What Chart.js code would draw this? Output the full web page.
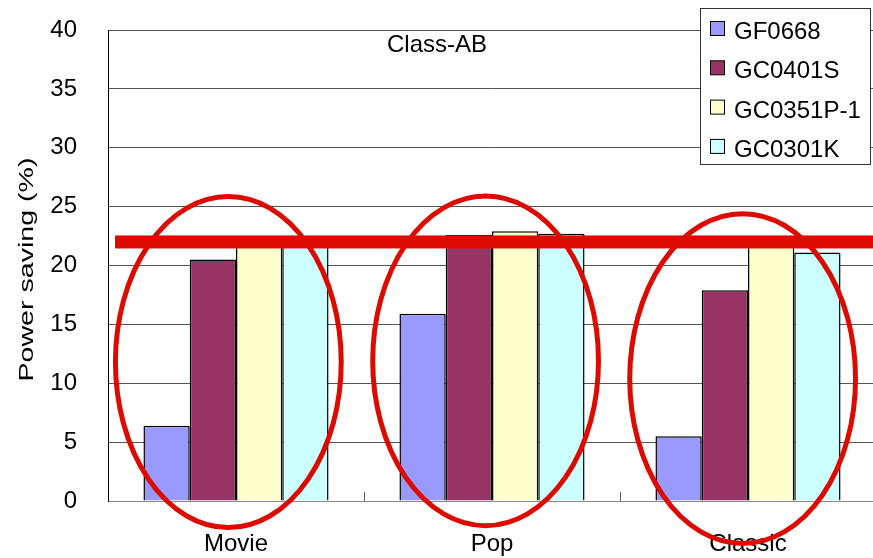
<!DOCTYPE html>
<html>
<head>
<meta charset="utf-8">
<script src="https://cdn.jsdelivr.net/npm/chart.js@4/dist/chart.umd.min.js"></script>
<style>
  html, body { margin: 0; padding: 0; background: #fff; overflow: hidden; }
  #wrap { width: 876px; height: 558px; position: relative; }
</style>
</head>
<body>
<div id="wrap"><canvas id="c"></canvas></div>
<script>
// Power saving per music genre, four amplifier parts (Class-AB)
const categories = ['Movie', 'Pop', 'Classic'];
const seriesNames = ['GF0668', 'GC0401S', 'GC0351P-1', 'GC0301K'];
const gf0668   = [6.4, 15.9, 5.5];
const gc0401s  = [20.5, 22.6, 17.9];
const gc0351p1 = [21.9, 22.9, 21.9];
const gc0301k  = [21.8, 22.7, 21.1];
const yTicks = [0, 5, 10, 15, 20, 25, 30, 35, 40];
const targetLevel = 22;           // horizontal reference line (%)
const chartTitle = 'Class-AB';
const axisTitle = 'Power saving (%)';

// highlight ellipses: centre (category index, %), radii (categories, %)
const ringCx = [-0.03, -0.025, -0.021];
const ringCy = [11.8, 11.9, 10.4];
const ringRx = [0.441, 0.441, 0.441];
const ringRy = [14.06, 14.0, 14.0];

const colors = ['#9999FF', '#993366', '#FFFFCC', '#CCFFFF'];
const FONT = 'Liberation Sans';
const RED = '#DD0A00';

const overlay = {
  id: 'overlay',
  afterDraw(chart) {
    const { ctx, chartArea: a, scales: { x, y } } = chart;
    const catW = x.getPixelForValue(1) - x.getPixelForValue(0);
    ctx.save();

    // short inward marks between categories
    ctx.strokeStyle = '#555';
    ctx.lineWidth = 1;
    for (let i = 1; i < categories.length; i++) {
      const px = Math.round(x.getPixelForValue(i - 0.5)) + 0.5;
      ctx.beginPath();
      ctx.moveTo(px, a.bottom);
      ctx.lineTo(px, a.bottom - 9);
      ctx.stroke();
    }

    // reference level
    const ly = y.getPixelForValue(targetLevel);
    ctx.fillStyle = RED;
    ctx.fillRect(a.left + 7, ly - 6.5, chart.width - a.left - 7, 13);

    // ellipses round each genre group
    ctx.strokeStyle = RED;
    ctx.lineWidth = 5;
    for (let i = 0; i < categories.length; i++) {
      const cx = x.getPixelForValue(i) + ringCx[i] * catW;
      const cy = y.getPixelForValue(ringCy[i]);
      const rx = ringRx[i] * catW;
      const ry = Math.abs(y.getPixelForValue(ringCy[i] + ringRy[i]) - cy);
      ctx.beginPath();
      ctx.ellipse(cx, cy, rx, ry, 0, 0, Math.PI * 2);
      ctx.stroke();
    }

    // y axis title, rotated and drawn wide
    ctx.fillStyle = '#000';
    ctx.save();
    ctx.translate(27, (a.top + a.bottom) / 2 + 4);
    ctx.rotate(-Math.PI / 2);
    ctx.font = '21px "' + FONT + '"';
    ctx.textAlign = 'center';
    ctx.textBaseline = 'middle';
    const tw = ctx.measureText(axisTitle).width;
    ctx.scale(224 / tw, 1);
    ctx.fillText(axisTitle, 0, 0);
    ctx.restore();

    // chart title inside the plot
    ctx.font = '24px "' + FONT + '"';
    ctx.textAlign = 'center';
    ctx.textBaseline = 'alphabetic';
    ctx.fillText(chartTitle, 437, 52);

    // boxed legend, top right
    const bx = 700.5, by = 8.5, bw = 170, bh = 156;
    ctx.fillStyle = '#fff';
    ctx.fillRect(bx, by, bw, bh);
    ctx.strokeStyle = '#333';
    ctx.lineWidth = 1;
    ctx.strokeRect(bx, by, bw, bh);
    ctx.textAlign = 'left';
    chart.data.datasets.forEach((ds, i) => {
      const top = 21 + i * 39.3;
      ctx.fillStyle = ds.backgroundColor;
      ctx.fillRect(710.5, top + 0.5, 14, 14);
      ctx.strokeStyle = '#000';
      ctx.strokeRect(710.5, top + 0.5, 14, 14);
      ctx.fillStyle = '#000';
      ctx.fillText(ds.label, 734, top + 18);
    });
    ctx.restore();
  }
};

const datasets = [gf0668, gc0401s, gc0351p1, gc0301k].map((vals, i) => ({
  label: seriesNames[i],
  data: vals,
  backgroundColor: colors[i],
  borderColor: '#000',
  borderWidth: 1.5,
  borderSkipped: 'start',
  categoryPercentage: 0.723,
  barPercentage: 1.0
}));

new Chart(document.getElementById('c'), {
  type: 'bar',
  data: { labels: categories, datasets },
  options: {
    responsive: true,
    maintainAspectRatio: false,
    animation: false,
    layout: { padding: { top: 30, left: 0, right: 0, bottom: 0 } },
    plugins: { legend: { display: false }, tooltip: { enabled: false }, title: { display: false } },
    scales: {
      x: {
        grid: { display: false, drawTicks: false },
        border: { display: true, color: '#888', width: 1 },
        ticks: { color: '#000', font: { family: FONT, size: 24 }, padding: 29, maxRotation: 0 },
        afterFit(s) { s.height = 57; s.paddingLeft = 0; s.paddingRight = 0; }
      },
      y: {
        min: 0, max: 40,
        afterBuildTicks(s) { s.ticks = yTicks.map(v => ({ value: v })); },
        grid: {
          drawTicks: false,
          color: ctx => (ctx.tick && ctx.tick.value === 0) ? 'rgba(0,0,0,0)' : '#555',
          lineWidth: 1
        },
        border: { display: true, color: '#000', width: 1 },
        ticks: { color: '#000', font: { family: FONT, size: 24 }, padding: 31 },
        afterFit(s) { s.width = 108; s.paddingTop = 0; s.paddingBottom = 0; }
      }
    }
  },
  plugins: [overlay]
});
</script>
</body>
</html>
